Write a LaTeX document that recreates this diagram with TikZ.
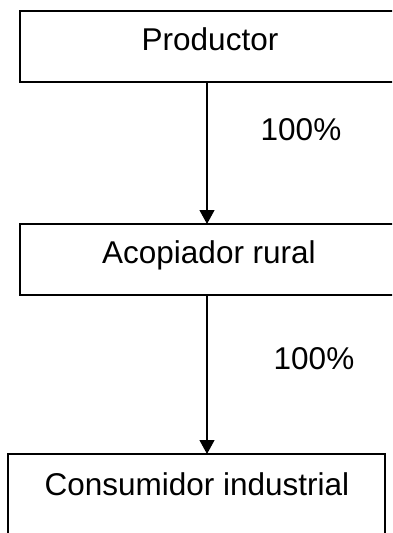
\documentclass[tikz,border=0pt]{standalone}
\usepackage{fontspec}
\setmainfont{Liberation Sans}
\usetikzlibrary{arrows.meta}
\begin{document}
\begin{tikzpicture}[x=1pt,y=-1pt,
  box/.style={draw=black,line width=1.2pt,fill=white,inner sep=0pt},
  lbl/.style={inner sep=0pt,font=\fontsize{31.5}{36}\selectfont},
  flow/.style={line width=1.2pt,-{Triangle[width=15pt,length=14pt]}}]
\useasboundingbox (0,0) rectangle (392,533);
\clip (0,0) rectangle (392,533);
\fill[white] (0,0) rectangle (392,533);
\node[box,minimum width=380pt,minimum height=71pt] (b1) at (210,46.5) {};
\node[box,minimum width=378pt,minimum height=71pt] (b2) at (209,259.5) {};
\node[box,minimum width=377pt,minimum height=90pt] (b3) at (196.5,499) {};
\node[lbl,anchor=base] (t1) at (210,50) {Productor};
\node[lbl,anchor=base] (t2) at (209,263) {Acopiador rural};
\node[lbl,anchor=base] (t3) at (197,495) {Consumidor industrial};
\coordinate (a1s) at (207,82);
\coordinate (a1e) at (207,224);
\coordinate (a2s) at (207,295);
\coordinate (a2e) at (207,454);
\draw[flow] (a1s) -- (a1e);
\draw[flow] (a2s) -- (a2e);
\node[lbl] (p1) at (301,130) {100\%};
\node[lbl] (p2) at (314,359) {100\%};
\end{tikzpicture}
\end{document}
